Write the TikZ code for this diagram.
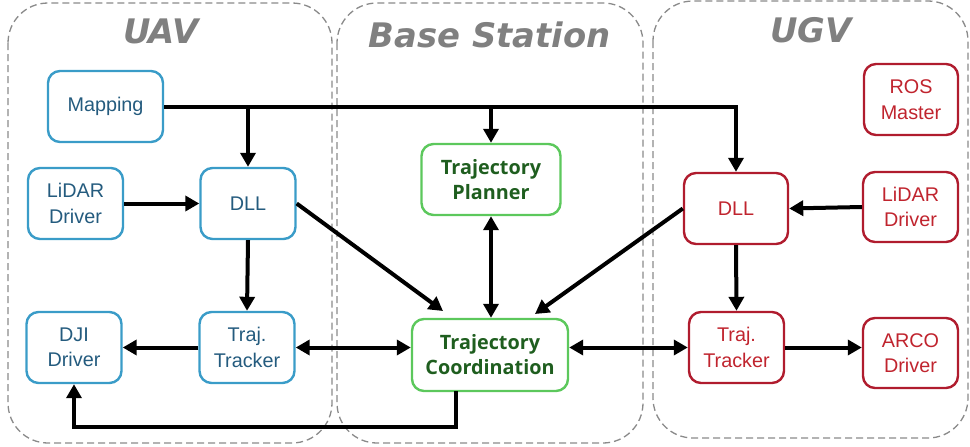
\documentclass[tikz,border=0pt]{standalone}
\usepackage{fontspec}
\setmainfont{Liberation Sans}
\newfontfamily\boldnodefont{Open Sans}
\newfontfamily\titlefont{DejaVu Sans}
\usetikzlibrary{arrows.meta}
\definecolor{uavline}{HTML}{3A9CC8}
\definecolor{uavtext}{HTML}{245B7E}
\definecolor{bsline}{HTML}{5CC85C}
\definecolor{bstext}{HTML}{1F5E1F}
\definecolor{ugvline}{HTML}{B01C2E}
\definecolor{ugvtext}{HTML}{C0242E}
\definecolor{zonegray}{HTML}{8A8A8A}
\definecolor{titlegray}{HTML}{808080}
\tikzset{
  box/.style={draw, rounded corners=12pt, line width=2.4pt, inner sep=0pt, align=center,
    minimum height=71pt, font=\fontsize{19.8}{25.5}\selectfont},
  uavbox/.style={box, draw=uavline, text=uavtext},
  bsbox/.style={box, draw=bsline, text=bstext, font=\boldnodefont\bfseries\fontsize{19.8}{25}\selectfont},
  ugvbox/.style={box, draw=ugvline, text=ugvtext},
  zone/.style={draw=zonegray, dash pattern=on 7pt off 4pt, line width=1.3pt, rounded corners=40pt},
  zonetitle/.style={text=titlegray, anchor=base, inner sep=0pt, font=\titlefont\bfseries\itshape\fontsize{33.8}{34}\selectfont},
  arr/.style={line width=4pt, -{Triangle[length=14pt,width=15pt]}},
  darr/.style={line width=4pt, {Triangle[length=14pt,width=15pt]}-{Triangle[length=14pt,width=15pt]}},
  plain/.style={line width=4pt}
}
\begin{document}
\begin{tikzpicture}[x=1pt,y=-1pt]
\useasboundingbox (0,0) rectangle (970,447);
% zones
\draw[zone] (8,3) rectangle (332,443);
\draw[zone] (337,3) rectangle (643,443);
\draw[zone] (653,1) rectangle (968,438);
\node[zonetitle] (tuav) at (161,43) {UAV};
\node[zonetitle] (tbs) at (489.5,47) {Base Station};
\node[zonetitle] (tugv) at (811,42) {UGV};
% UAV
\node[uavbox, minimum width=115pt] (map) at (105.5,106.5) {Mapping};
\node[uavbox, minimum width=95pt] (alid) at (75.5,203.5) {LiDAR\\Driver};
\node[uavbox, minimum width=95pt] (adll) at (248,203.5) {DLL};
\node[uavbox, minimum width=95pt] (adji) at (74,347.5) {DJI\\Driver};
\node[uavbox, minimum width=95pt] (atraj) at (247,347.5) {Traj.\\Tracker};
% Base station
\node[bsbox, minimum width=139pt] (tp) at (491,179.5) {Trajectory\\Planner};
\node[bsbox, minimum width=156pt, minimum height=72pt] (tc) at (490,355) {Trajectory\\Coordination};
% UGV
\node[ugvbox, minimum width=94pt] (ros) at (911,99.5) {ROS\\Master};
\node[ugvbox, minimum width=104pt] (gdll) at (736,208.5) {DLL};
\node[ugvbox, minimum width=95pt, minimum height=70pt] (glid) at (910.5,207) {LiDAR\\Driver};
\node[ugvbox, minimum width=95pt] (gtraj) at (736.5,347.5) {Traj.\\Tracker};
\node[ugvbox, minimum width=95pt, minimum height=70pt] (arco) at (910.5,353) {ARCO\\Driver};
% helper coordinates
\coordinate (tcin1) at (443,311);
\coordinate (tcin2) at (535,314);
\coordinate (tcout) at (456,391);
% connectors
\draw[arr] (map.east) -| (gdll.north);
\draw[arr] (adll.north |- map.east) -- (adll.north);
\draw[arr] (tp.north |- map.east) -- (tp.north);
\draw[arr] (alid.east) -- (adll.west);
\draw[arr] (adll.south) -- (atraj.north);
\draw[arr] (atraj.west) -- (adji.east);
\draw[darr] (atraj.east) -- (atraj.east -| tc.west);
\draw[arr] (adll.east) -- (tcin1);
\draw[darr] (tp.south) -- (tp.south |- tc.north);
\draw[arr] (gdll.west) -- (tcin2);
\draw[darr] (tc.east |- gtraj.west) -- (gtraj.west);
\draw[arr] (glid.west) -- (gdll.east);
\draw[arr] (gdll.south) -- (gtraj.north);
\draw[arr] (gtraj.east) -- (gtraj.east -| arco.west);
\draw[arr] (tcout) -- ++(0,36) -| (adji.south);
\end{tikzpicture}
\end{document}
